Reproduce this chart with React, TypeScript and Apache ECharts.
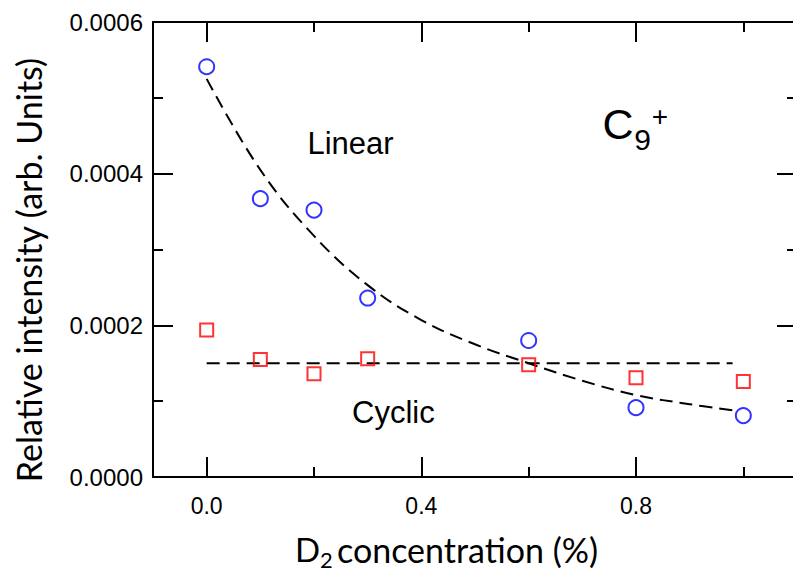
import React, { useEffect, useRef } from "react";
import * as echarts from "echarts";

const concentration = [0.0, 0.1, 0.2, 0.3, 0.6, 0.8, 1.0];
const linearIntensity = [0.000541, 0.000367, 0.000352, 0.000236, 0.00018, 0.0000914, 0.000081];
const cyclicIntensity = [0.000194, 0.000155, 0.000136, 0.000156, 0.000148, 0.000131, 0.000126];
const linearFitX = [0, 0.1, 0.2, 0.3, 0.4, 0.5, 0.6, 0.7, 0.8, 0.9, 0.98];
const linearFitY = [0.000525, 0.000405, 0.000318, 0.000253, 0.000207, 0.000175, 0.00015, 0.000127, 0.000108, 0.000096, 0.000088];
const cyclicFitX = [0, 0.98];
const cyclicFitY = [0.00015, 0.00015];
const xMajorTicks = [0, 0.4, 0.8];
const xMinorTicks = [0.2, 0.6, 1.0];

const ARIAL = "'Liberation Sans', Arial, sans-serif";
const HUMAN = "Lato, 'Open Sans', sans-serif";

export default function App() {
  const ref = useRef<HTMLDivElement>(null);
  useEffect(() => {
    if (!ref.current) return;
    const chart = echarts.init(ref.current, null, { renderer: "svg" });
    const line = { color: "#000", width: 2 };
    const xBase = { type: "value", min: -0.1, max: 1.1, splitLine: { show: false }, gridIndex: 0 };
    const option: any = {
      animation: false,
      backgroundColor: "#fff",
      grid: { left: 153, top: 22, width: 644, height: 455, containLabel: false },
      xAxis: [
        {
          ...xBase,
          position: "bottom",
          axisLine: { show: true, onZero: false, lineStyle: line },
          axisTick: { show: true, inside: true, length: 20, lineStyle: line, customValues: xMajorTicks },
          axisLabel: {
            show: true,
            customValues: xMajorTicks,
            formatter: (v: number) => v.toFixed(1),
            fontFamily: ARIAL,
            fontSize: 23,
            color: "#000",
            margin: 17,
          },
        },
        {
          ...xBase,
          position: "bottom",
          axisLine: { show: false, onZero: false },
          axisTick: { show: true, inside: true, length: 10, lineStyle: line, customValues: xMinorTicks },
          axisLabel: { show: false },
        },
        {
          ...xBase,
          position: "top",
          axisLine: { show: true, onZero: false, lineStyle: line },
          axisTick: { show: true, inside: true, length: 20, lineStyle: line, customValues: xMajorTicks },
          axisLabel: { show: false },
        },
        {
          ...xBase,
          position: "top",
          axisLine: { show: false, onZero: false },
          axisTick: { show: true, inside: true, length: 10, lineStyle: line, customValues: xMinorTicks },
          axisLabel: { show: false },
        },
      ],
      yAxis: [
        {
          type: "value",
          position: "left",
          min: 0,
          max: 0.0006,
          interval: 0.0002,
          splitLine: { show: false },
          axisLine: { show: true, onZero: false, lineStyle: line },
          axisTick: { show: true, inside: true, length: 20, lineStyle: line },
          minorTick: { show: true, splitNumber: 2, length: 10, lineStyle: line },
          axisLabel: {
            formatter: (v: number) => v.toFixed(4),
            fontFamily: ARIAL,
            fontSize: 24,
            color: "#000",
            margin: 10,
            padding: [5, 0, 0, 0],
          },
        },
        {
          type: "value",
          position: "right",
          min: 0,
          max: 0.0006,
          interval: 0.0002,
          splitLine: { show: false },
          axisLine: { show: true, onZero: false, lineStyle: line },
          axisTick: { show: true, inside: true, length: 20, lineStyle: line },
          minorTick: { show: true, splitNumber: 2, length: 10, lineStyle: line },
          axisLabel: { show: false },
        },
      ],
      series: [
        {
          type: "line",
          name: "Linear fit",
          data: linearFitX.map((x, i) => [x, linearFitY[i]]),
          showSymbol: false,
          smooth: 0.4,
          lineStyle: { color: "#000", width: 2, type: [13, 7] },
          z: 2,
        },
        {
          type: "line",
          name: "Cyclic fit",
          data: cyclicFitX.map((x, i) => [x, cyclicFitY[i]]),
          showSymbol: false,
          lineStyle: { color: "#000", width: 2, type: [13, 7] },
          z: 2,
        },
        {
          type: "scatter",
          name: "Linear",
          data: concentration.map((x, i) => [x, linearIntensity[i]]),
          symbol: "circle",
          symbolSize: 15,
          itemStyle: { color: "rgba(0,0,0,0)", borderColor: "#0000ff", borderWidth: 2 },
          z: 3,
        },
        {
          type: "scatter",
          name: "Cyclic",
          data: concentration.map((x, i) => [x, cyclicIntensity[i]]),
          symbol: "rect",
          symbolSize: 13,
          itemStyle: { color: "rgba(0,0,0,0)", borderColor: "#ff0000", borderWidth: 2 },
          z: 3,
        },
      ],
      graphic: [
        { type: "text", x: 350.5, y: 143, style: { text: "Linear", fontFamily: ARIAL, fontSize: 31, fill: "#000", align: "center", verticalAlign: "middle" } },
        { type: "text", x: 393.4, y: 412, style: { text: "Cyclic", fontFamily: ARIAL, fontSize: 31, fill: "#000", align: "center", verticalAlign: "middle" } },
        { type: "text", x: 618, y: 124, style: { text: "C", fontFamily: ARIAL, fontSize: 43, fill: "#000", align: "center", verticalAlign: "middle" } },
        { type: "text", x: 642.5, y: 139, style: { text: "9", fontFamily: ARIAL, fontSize: 30, fill: "#000", align: "center", verticalAlign: "middle" } },
        { type: "text", x: 660, y: 116.5, style: { text: "+", fontFamily: ARIAL, fontSize: 28, fill: "#000", align: "center", verticalAlign: "middle" } },
        {
          type: "text",
          x: 28,
          y: 270,
          rotation: Math.PI / 2,
          style: { text: "Relative intensity (arb. Units)", fontFamily: HUMAN, fontSize: 34, fill: "#000", align: "center", verticalAlign: "middle" },
        },
        { type: "text", x: 295, y: 549, style: { text: "D", fontFamily: HUMAN, fontSize: 33, fill: "#000", align: "left", verticalAlign: "middle" } },
        { type: "text", x: 320, y: 559, style: { text: "2", fontFamily: HUMAN, fontSize: 22, fill: "#000", align: "left", verticalAlign: "middle" } },
        { type: "text", x: 337, y: 549, style: { text: "concentration (%)", fontFamily: HUMAN, fontSize: 34, fill: "#000", align: "left", verticalAlign: "middle" } },
      ],
    };
    chart.setOption(option);
    return () => chart.dispose();
  }, []);
  return (
    <div
      ref={ref}
      style={{ position: "fixed", left: 0, top: 0, width: 800, height: 574, background: "#fff" }}
    />
  );
}
